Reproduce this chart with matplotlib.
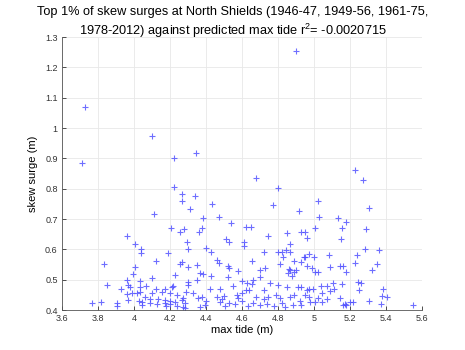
import matplotlib
matplotlib.use("Agg")
import matplotlib.pyplot as plt
import numpy as np

plt.rcParams['font.family'] = ['Liberation Sans', 'DejaVu Sans']
plt.rcParams['mathtext.fontset'] = 'custom'
plt.rcParams['mathtext.rm'] = 'Liberation Sans'
plt.rcParams['mathtext.it'] = 'Liberation Sans:italic'

# Predicted max tide (m) for each event
max_tide = [
    3.713, 3.730, 4.098, 4.224, 4.344, 4.898, 4.222, 4.680, 4.800, 5.230, 5.270,
    4.270, 4.270, 4.340, 4.310, 4.435, 4.385, 4.470, 4.110, 4.770, 4.915, 5.024,
    5.307, 5.028, 5.135,
    4.540, 4.280, 4.620, 4.650, 4.376, 4.360, 4.746, 4.850, 4.930, 4.204, 4.256,
    3.963, 4.006, 4.037, 4.400, 4.300, 4.296, 4.510, 4.530, 4.610, 4.610, 4.868,
    5.176, 5.154, 5.289, 5.006, 4.950, 4.963, 5.150, 5.283, 5.361,
    4.037, 4.190, 4.430, 4.720, 4.800, 4.820, 4.867, 4.844, 4.830, 4.950, 4.930,
    4.654, 4.460, 4.470, 4.524, 4.530, 4.580, 4.700, 4.867, 4.857, 4.900, 4.270,
    4.348, 4.367, 4.385, 4.430, 4.524, 4.700, 4.122, 3.835, 4.006, 4.256, 3.993,
    4.100, 4.228, 4.813, 4.890, 4.863, 4.887, 4.730, 4.876, 5.240, 5.085, 4.974,
    5.000, 4.944, 4.963, 4.987, 5.006, 5.024, 5.090, 5.144, 5.160, 5.178, 5.348,
    5.320, 5.230, 4.300,
    4.350, 4.600, 4.626, 4.654, 4.756, 4.800, 4.850, 4.913, 4.930, 4.300, 4.420,
    4.480, 4.550, 4.620, 4.640, 4.720, 4.290, 4.330, 4.660, 3.960, 4.300, 3.848,
    3.970, 4.033, 4.067, 3.930, 3.980, 4.033, 4.122, 4.172, 4.210, 4.220, 3.960,
    4.033, 3.987, 4.015, 4.098, 4.157, 4.200, 4.237, 5.246, 5.260, 5.250, 5.107,
    5.074, 5.037, 5.154, 5.111, 5.089, 5.043, 4.996, 4.974, 4.960, 5.385, 4.570,
    4.600, 4.790, 4.890, 4.950,
    4.274, 4.357, 4.376, 4.460, 4.490, 4.680, 4.746, 4.810, 4.867, 4.283, 4.367,
    4.394, 4.480, 4.506, 4.530, 4.635, 4.700, 4.780, 4.885, 4.930, 4.274, 4.060,
    3.965, 4.030, 4.089, 4.135, 4.172, 4.200, 4.043, 3.770, 3.820, 3.904, 3.904,
    4.043, 4.089, 4.126, 4.172, 4.200, 4.228, 4.237, 4.283, 4.180, 4.265, 5.376,
    5.407, 4.974, 5.024, 5.074, 5.144, 5.043, 5.006, 5.200, 5.217, 5.172, 5.180,
    5.160, 5.307, 5.370, 5.550, 4.978,
    4.560, 4.600, 4.660, 4.740, 4.820, 4.840, 4.920, 4.580, 4.720, 4.500, 4.400,
]

# Skew surge (m) for each event
skew_surge = [
    0.884, 1.068, 0.975, 0.900, 0.919, 1.255, 0.805, 0.836, 0.804, 0.862, 0.830,
    0.783, 0.761, 0.777, 0.732, 0.750, 0.703, 0.708, 0.716, 0.747, 0.727, 0.761,
    0.736, 0.708, 0.703,
    0.688, 0.667, 0.673, 0.675, 0.670, 0.659, 0.645, 0.655, 0.659, 0.672, 0.656,
    0.644, 0.617, 0.601, 0.604, 0.600, 0.625, 0.634, 0.623, 0.625, 0.610, 0.618,
    0.692, 0.670, 0.667, 0.672, 0.656, 0.639, 0.633, 0.600, 0.598,
    0.589, 0.587, 0.593, 0.593, 0.593, 0.590, 0.593, 0.598, 0.574, 0.576, 0.560,
    0.563, 0.565, 0.554, 0.545, 0.538, 0.530, 0.532, 0.532, 0.523, 0.532, 0.560,
    0.549, 0.521, 0.519, 0.512, 0.508, 0.510, 0.563, 0.552, 0.543, 0.551, 0.519,
    0.505, 0.516, 0.551, 0.563, 0.534, 0.527, 0.538, 0.512, 0.581, 0.581, 0.585,
    0.576, 0.574, 0.545, 0.538, 0.527, 0.527, 0.543, 0.545, 0.545, 0.527, 0.552,
    0.532, 0.554, 0.543,
    0.499, 0.497, 0.488, 0.486, 0.488, 0.483, 0.477, 0.477, 0.477, 0.483, 0.468,
    0.471, 0.479, 0.466, 0.466, 0.466, 0.460, 0.455, 0.499, 0.499, 0.491, 0.483,
    0.483, 0.496, 0.479, 0.471, 0.475, 0.477, 0.471, 0.468, 0.475, 0.479, 0.453,
    0.460, 0.455, 0.455, 0.455, 0.460, 0.455, 0.450, 0.494, 0.488, 0.466, 0.488,
    0.479, 0.479, 0.485, 0.471, 0.464, 0.458, 0.468, 0.471, 0.466, 0.468, 0.450,
    0.455, 0.450, 0.450, 0.450,
    0.439, 0.439, 0.444, 0.442, 0.436, 0.442, 0.444, 0.439, 0.442, 0.422, 0.411,
    0.417, 0.427, 0.413, 0.424, 0.413, 0.417, 0.413, 0.417, 0.417, 0.411, 0.444,
    0.433, 0.431, 0.435, 0.435, 0.433, 0.431, 0.427, 0.425, 0.427, 0.424, 0.413,
    0.417, 0.422, 0.420, 0.422, 0.420, 0.427, 0.414, 0.406, 0.413, 0.433, 0.446,
    0.444, 0.444, 0.439, 0.435, 0.439, 0.427, 0.427, 0.427, 0.427, 0.420, 0.417,
    0.417, 0.431, 0.420, 0.417, 0.427,
    0.420, 0.430, 0.425, 0.420, 0.425, 0.410, 0.430, 0.440, 0.435, 0.445, 0.430,
]

x_ticks = [3.6, 3.8, 4.0, 4.2, 4.4, 4.6, 4.8, 5.0, 5.2, 5.4, 5.6]
x_tick_labels = ['3.6', '3.8', '4', '4.2', '4.4', '4.6', '4.8', '5', '5.2', '5.4', '5.6']
y_ticks = [0.4, 0.5, 0.6, 0.7, 0.8, 0.9, 1.0, 1.1, 1.2, 1.3]
y_tick_labels = ['0.4', '0.5', '0.6', '0.7', '0.8', '0.9', '1', '1.1', '1.2', '1.3']

title_lines = [
    'Top 1% of skew surges at North Shields (1946-47, 1949-56, 1961-75,',
    '1978-2012) against predicted max tide r$^{\\mathrm{2}}$= -0.0020715',
]

fig = plt.figure(figsize=(4.65, 3.5), dpi=100)
ax = fig.add_axes([0.133, 0.114, 0.7745, 0.78])

ax.plot(max_tide, skew_surge, linestyle='none', marker='+', markersize=5,
        markeredgewidth=0.8, color='#4a4aff', alpha=0.8)

ax.set_xlim(3.6, 5.6)
ax.set_ylim(0.4, 1.3)
ax.set_xticks(x_ticks)
ax.set_xticklabels(x_tick_labels)
ax.set_yticks(y_ticks)
ax.set_yticklabels(y_tick_labels)
ax.tick_params(direction='in', length=3, width=0.6, labelsize=6.5, pad=3,
               colors='#333333')
ax.grid(True, color='#e8e8e8', linewidth=0.6)
ax.set_axisbelow(True)
for side in ('top', 'right'):
    ax.spines[side].set_visible(False)
for side in ('left', 'bottom'):
    ax.spines[side].set_linewidth(0.6)
    ax.spines[side].set_color('#555555')

ax.set_xlabel('max tide (m)', fontsize=8, labelpad=1)
ax.set_ylabel('skew surge (m)', fontsize=8, labelpad=5)

# Two-line title, one text per line
fig.text(0.5, 0.966, title_lines[0], fontsize=9.2, ha='center', va='center')
fig.text(0.5, 0.913, title_lines[1], fontsize=9.2, ha='center', va='center')

fig.savefig('out.png', dpi=100)
